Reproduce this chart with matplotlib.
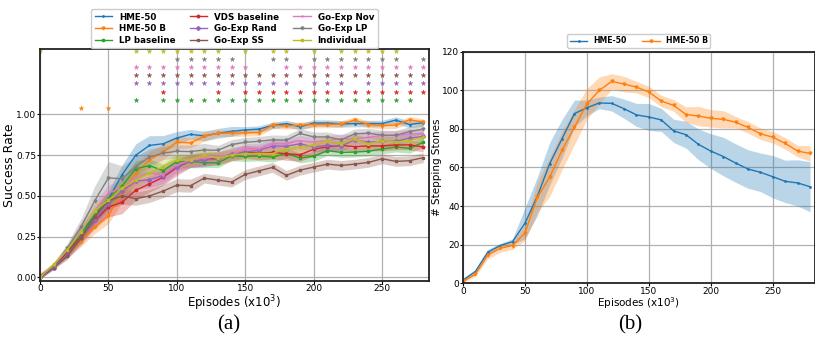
import numpy as np
import matplotlib
matplotlib.use("Agg")
from matplotlib import pyplot as plt

# episodes (x10^3)
episodes = list(range(0, 290, 10))

# ---- (a) success rate ----
names = ["HME-50", "HME-50 B", "LP baseline", "VDS baseline", "Go-Exp Rand",
         "Go-Exp SS", "Go-Exp Nov", "Go-Exp LP", "Individual"]
colors = ["tab:blue", "tab:orange", "tab:green", "tab:red", "tab:purple",
          "tab:brown", "tab:pink", "tab:gray", "tab:olive"]
markers = [".", "v", "s", "p", "D", "s", "+", "v", "s"]

hme50 = [0.0, 0.07, 0.16, 0.28, 0.38, 0.48, 0.63, 0.75, 0.81, 0.82, 0.855, 0.878, 0.868, 0.884, 0.896,
         0.905, 0.91, 0.932, 0.944, 0.924, 0.947, 0.947, 0.942, 0.944, 0.944, 0.944, 0.965, 0.938, 0.949]
hme50_b = [0.0, 0.07, 0.14, 0.22, 0.31, 0.38, 0.52, 0.64, 0.72, 0.77, 0.83, 0.825, 0.865, 0.885, 0.885,
           0.887, 0.889, 0.934, 0.93, 0.934, 0.938, 0.938, 0.942, 0.965, 0.938, 0.932, 0.934, 0.967, 0.953]
lp_base = [0.0, 0.07, 0.16, 0.26, 0.38, 0.48, 0.56, 0.667, 0.686, 0.656, 0.71, 0.712, 0.704, 0.703, 0.746,
           0.742, 0.745, 0.738, 0.761, 0.733, 0.743, 0.778, 0.767, 0.769, 0.774, 0.788, 0.80, 0.792, 0.829]
vds_base = [0.0, 0.07, 0.15, 0.25, 0.35, 0.432, 0.461, 0.535, 0.574, 0.615, 0.675, 0.715, 0.725, 0.73, 0.755,
            0.77, 0.761, 0.767, 0.759, 0.753, 0.786, 0.802, 0.81, 0.802, 0.807, 0.807, 0.813, 0.813, 0.80]
goexp_rand = [0.0, 0.06, 0.14, 0.24, 0.355, 0.45, 0.53, 0.59, 0.60, 0.625, 0.68, 0.715, 0.72, 0.725, 0.755,
              0.77, 0.78, 0.806, 0.805, 0.82, 0.80, 0.81, 0.805, 0.845, 0.83, 0.835, 0.835, 0.855, 0.865]
goexp_ss = [0.0, 0.06, 0.13, 0.24, 0.37, 0.47, 0.50, 0.483, 0.50, 0.53, 0.566, 0.563, 0.609, 0.597, 0.585,
            0.632, 0.654, 0.675, 0.626, 0.658, 0.677, 0.695, 0.687, 0.695, 0.706, 0.728, 0.712, 0.716, 0.735]
goexp_nov = [0.01, 0.07, 0.17, 0.29, 0.41, 0.518, 0.55, 0.61, 0.64, 0.63, 0.69, 0.72, 0.73, 0.74, 0.75,
             0.79, 0.79, 0.82, 0.82, 0.84, 0.83, 0.84, 0.85, 0.85, 0.86, 0.87, 0.87, 0.88, 0.88]
goexp_lp = [0.01, 0.07, 0.18, 0.31, 0.47, 0.611, 0.605, 0.68, 0.738, 0.763, 0.774, 0.772, 0.782, 0.78, 0.815,
            0.829, 0.835, 0.844, 0.842, 0.883, 0.862, 0.862, 0.844, 0.881, 0.885, 0.872, 0.872, 0.895, 0.91]
individual = [0.0, 0.08, 0.17, 0.28, 0.41, 0.473, 0.55, 0.595, 0.64, 0.68, 0.72, 0.72, 0.75, 0.73, 0.75,
              0.76, 0.76, 0.76, 0.79, 0.80, 0.81, 0.84, 0.82, 0.85, 0.82, 0.84, 0.83, 0.84, 0.86]

hme50_sd = [0.01, 0.01, 0.02, 0.03, 0.04, 0.05, 0.06, 0.07, 0.06, 0.05, 0.04, 0.03, 0.03, 0.03, 0.03,
            0.02, 0.02, 0.02, 0.02, 0.02, 0.02, 0.02, 0.02, 0.02, 0.02, 0.02, 0.02, 0.02, 0.02]
hme50_b_sd = [0.01, 0.01, 0.02, 0.03, 0.04, 0.05, 0.06, 0.06, 0.05, 0.05, 0.04, 0.03, 0.03, 0.02, 0.02,
              0.02, 0.02, 0.02, 0.02, 0.02, 0.02, 0.02, 0.02, 0.02, 0.02, 0.02, 0.02, 0.02, 0.02]
lp_base_sd = [0.01, 0.01, 0.02, 0.03, 0.04, 0.04, 0.05, 0.05, 0.04, 0.04, 0.04, 0.04, 0.03, 0.03, 0.03,
              0.03, 0.03, 0.03, 0.03, 0.03, 0.03, 0.03, 0.03, 0.03, 0.03, 0.03, 0.03, 0.03, 0.03]
vds_base_sd = [0.01, 0.01, 0.02, 0.03, 0.05, 0.06, 0.07, 0.06, 0.05, 0.05, 0.05, 0.04, 0.04, 0.04, 0.04,
               0.04, 0.04, 0.04, 0.04, 0.04, 0.04, 0.03, 0.03, 0.03, 0.03, 0.03, 0.03, 0.03, 0.03]
goexp_rand_sd = [0.01, 0.01, 0.02, 0.04, 0.05, 0.05, 0.05, 0.05, 0.05, 0.05, 0.04, 0.04, 0.04, 0.03, 0.03,
                 0.03, 0.03, 0.03, 0.03, 0.03, 0.03, 0.03, 0.03, 0.03, 0.03, 0.03, 0.03, 0.03, 0.03]
goexp_ss_sd = [0.01, 0.01, 0.02, 0.03, 0.04, 0.05, 0.05, 0.04, 0.04, 0.04, 0.04, 0.04, 0.03, 0.03, 0.03,
               0.03, 0.03, 0.03, 0.03, 0.03, 0.03, 0.03, 0.03, 0.03, 0.03, 0.03, 0.03, 0.03, 0.03]
goexp_nov_sd = [0.02, 0.02, 0.03, 0.05, 0.05, 0.05, 0.05, 0.05, 0.04, 0.04, 0.04, 0.04, 0.04, 0.03, 0.03,
                0.03, 0.03, 0.03, 0.03, 0.03, 0.03, 0.03, 0.03, 0.03, 0.03, 0.03, 0.03, 0.03, 0.03]
goexp_lp_sd = [0.01, 0.02, 0.03, 0.05, 0.09, 0.10, 0.08, 0.06, 0.05, 0.04, 0.04, 0.04, 0.04, 0.03, 0.03,
               0.03, 0.03, 0.03, 0.03, 0.03, 0.03, 0.03, 0.03, 0.03, 0.03, 0.03, 0.03, 0.03, 0.03]
individual_sd = [0.01, 0.01, 0.02, 0.03, 0.04, 0.05, 0.05, 0.05, 0.04, 0.04, 0.04, 0.04, 0.04, 0.04, 0.03,
                 0.03, 0.03, 0.03, 0.03, 0.03, 0.03, 0.03, 0.03, 0.03, 0.03, 0.03, 0.03, 0.03, 0.03]

means = [hme50, hme50_b, lp_base, vds_base, goexp_rand, goexp_ss, goexp_nov, goexp_lp, individual]
stds = [hme50_sd, hme50_b_sd, lp_base_sd, vds_base_sd, goexp_rand_sd, goexp_ss_sd,
        goexp_nov_sd, goexp_lp_sd, individual_sd]

# significance stars (episode positions) and their row height
star_rows = {
    "HME-50 B": (1.04, [30, 50]),
    "LP baseline": (1.09, [70, 90, 100, 110, 120, 130, 140, 150, 160, 170, 180, 190, 200, 210,
                           220, 230, 240, 250, 260, 270]),
    "VDS baseline": (1.14, [90, 130, 150, 160, 170, 180, 190, 200, 210, 220, 230, 240, 250, 260,
                            270, 280]),
    "Go-Exp Rand": (1.19, [70, 80, 90, 100, 110, 120, 130, 140, 150, 160, 170, 180, 200, 210, 220,
                           240, 250, 260, 270, 280]),
    "Go-Exp SS": (1.24, list(range(70, 290, 10))),
    "Go-Exp Nov": (1.29, [70, 80, 90, 100, 110, 120, 130, 140, 150, 180, 190, 200, 210, 220, 230,
                          240, 250, 260, 270, 280]),
    "Go-Exp LP": (1.34, [100, 110, 120, 130, 140, 170, 180, 200, 210, 220, 230, 240, 250, 260, 280]),
    "Individual": (1.39, [0, 70, 80, 90, 100, 110, 120, 130, 150, 170, 180, 200, 220, 230, 240, 250,
                          260]),
}

# ---- (b) stepping stones ----
stones_hme50 = [1.5, 6, 16, 19.5, 21.5, 31, 45, 62, 75, 88, 91, 93.5, 93.3, 90.5, 87.3, 86.2, 84.7, 79,
                77, 72, 68.5, 65.7, 62.3, 59.2, 57.5, 55.2, 52.8, 52, 50]
stones_hme50_sd = [1, 1, 1.5, 1, 1.5, 8, 10, 11, 10, 7, 4, 3, 4, 5, 6, 7, 6, 6, 7, 8, 9, 10, 10, 10, 10,
                   11, 11, 12, 13]
stones_hme50_b = [1, 4.5, 14.5, 18, 19.5, 26, 44.5, 55, 69, 81, 93, 100, 104.7, 103.3, 101.7, 99.2, 94.5,
                  92.2, 87.5, 86.7, 85.5, 85, 83.5, 80.8, 77.5, 75.7, 72.5, 68.5, 67.3]
stones_hme50_b_sd = [1, 1, 2, 2, 2, 4, 8, 10, 10, 9, 8, 7, 4, 4, 3, 3, 3, 3, 4, 5, 4.5, 4.5, 3, 3, 3, 3,
                     3, 3, 4]

plt.rcParams['font.family'] = ['DejaVu Sans']
fig = plt.figure(figsize=(8.15, 3.37), dpi=100)
ax1 = fig.add_axes([0.049, 0.167, 0.477, 0.687])
ax2 = fig.add_axes([0.568, 0.160, 0.432, 0.686])

x = np.array(episodes)
for name, c, m, mu, sd in zip(names, colors, markers, means, stds):
    mu = np.array(mu)
    sd = np.array(sd)
    ax1.fill_between(x, mu - sd, mu + sd, color=c, alpha=0.3, linewidth=0)
    ax1.plot(x, mu, color=c, marker=m, markersize=2, linewidth=1.0, label=name)
for name, c in zip(names, colors):
    if name in star_rows:
        yv, xs = star_rows[name]
        ax1.plot(xs, [yv] * len(xs), linestyle="none", marker="*", markersize=3.5,
                 markeredgewidth=0.3, color=c)

ax1.set_xlim(0, 284)
ax1.set_ylim(-0.02, 1.40)
ax1.set_yticks([0.0, 0.25, 0.5, 0.75, 1.0])
ax1.set_xticks([0, 50, 100, 150, 200, 250])
ax1.set_ylabel("Success Rate", fontsize=9, labelpad=0)
ax1.set_xlabel("Episodes (x10$^3$)", fontsize=8.5, labelpad=0)
ax1.legend(loc="lower center", bbox_to_anchor=(0.5, 0.985), ncol=3,
           prop={"weight": "bold", "size": 6.3}, handlelength=2.0, columnspacing=1.6,
           labelspacing=0.3, borderpad=0.4, framealpha=1)

xs2 = np.array(episodes)
for mu, sd, c, m, lab in [(stones_hme50, stones_hme50_sd, "tab:blue", ".", "HME-50"),
                          (stones_hme50_b, stones_hme50_b_sd, "tab:orange", "v", "HME-50 B")]:
    mu = np.array(mu)
    sd = np.array(sd)
    ax2.fill_between(xs2, mu - sd, mu + sd, color=c, alpha=0.3, linewidth=0)
    ax2.plot(xs2, mu, color=c, marker=m, markersize=2, linewidth=1.0, label=lab)
ax2.set_xlim(0, 284)
ax2.set_ylim(0, 120)
ax2.set_xticks([0, 50, 100, 150, 200, 250])
ax2.set_yticks([0, 20, 40, 60, 80, 100, 120])
ax2.set_ylabel("# Stepping Stones", fontsize=7.5, labelpad=0)
ax2.set_xlabel("Episodes (x10$^3$)", fontsize=7.5, labelpad=0)
ax2.legend(loc="lower center", bbox_to_anchor=(0.5, 1.0), ncol=2,
           prop={"weight": "bold", "size": 5.6}, handlelength=2.2, columnspacing=2.0,
           borderpad=0.35, framealpha=1)

for ax in (ax1, ax2):
    ax.grid(True, color="#b0b0b0", linewidth=0.9)
    ax.set_axisbelow(True)
    ax.tick_params(labelsize=6.5, length=2, pad=0.5)
    for s in ax.spines.values():
        s.set_linewidth(1.3)
        s.set_color("#222222")

fig.text(0.28, 0.035, "(a)", family="Liberation Serif", fontsize=15, ha="center", va="center")
fig.text(0.773, 0.035, "(b)", family="Liberation Serif", fontsize=15, ha="center", va="center")

fig.savefig("out.png", dpi=100)
